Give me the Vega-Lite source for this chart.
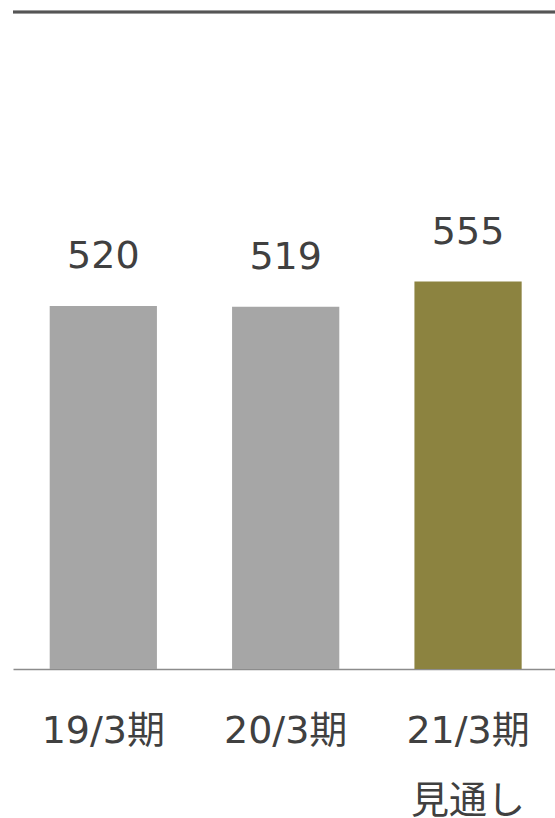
{
  "$schema": "https://vega.github.io/schema/vega-lite/v6.json",
  "width": 542,
  "height": 657,
  "autosize": {"type": "none"},
  "padding": {"left": 13, "top": 12, "right": 0, "bottom": 149},
  "background": "#ffffff",
  "config": {
    "view": {"stroke": null},
    "font": "DejaVu Sans, Noto Sans CJK JP"
  },
  "data": {
    "values": [
      {"period": "19/3期", "value": 520, "type": "actual"},
      {"period": "20/3期", "value": 519, "type": "actual"},
      {"period": "21/3期", "value": 555, "type": "forecast"}
    ]
  },
  "layer": [
    {
      "mark": {"type": "bar"},
      "encoding": {
        "x": {
          "field": "period",
          "type": "nominal",
          "sort": null,
          "scale": {"paddingInner": 0.412, "paddingOuter": 0.192, "align": 0.524},
          "axis": {
            "title": null,
            "domainColor": "#8c8c8c",
            "domainWidth": 1.3,
            "ticks": false,
            "tickSize": 0,
            "labelPadding": 43,
            "labelFontSize": 38,
            "labelFont": "DejaVu Sans, Noto Sans CJK JP",
            "labelColor": "#404040",
            "labelAngle": 0,
            "labelBaseline": "top",
            "labelLineHeight": 70,
            "labelOverlap": false,
            "labelExpr": "datum.value == '21/3期' ? ['21/3期', '見通し'] : datum.value"
          }
        },
        "y": {
          "field": "value",
          "type": "quantitative",
          "scale": {"domain": [0, 941], "nice": false, "zero": true},
          "axis": null
        },
        "color": {
          "field": "type",
          "type": "nominal",
          "scale": {"domain": ["actual", "forecast"], "range": ["#a6a6a6", "#8c8340"]},
          "legend": null
        }
      }
    },
    {
      "mark": {"type": "text", "dy": -37.5, "baseline": "alphabetic", "fontSize": 38, "color": "#404040", "font": "DejaVu Sans, Noto Sans CJK JP"},
      "encoding": {
        "x": {"field": "period", "type": "nominal", "sort": null},
        "y": {"field": "value", "type": "quantitative"},
        "text": {"field": "value", "type": "quantitative"}
      }
    },
    {
      "mark": {"type": "rule", "color": "#555555", "strokeWidth": 2.6, "xOffset": 8, "x2Offset": -5.6},
      "encoding": {"y": {"datum": 941}}
    }
  ]
}
